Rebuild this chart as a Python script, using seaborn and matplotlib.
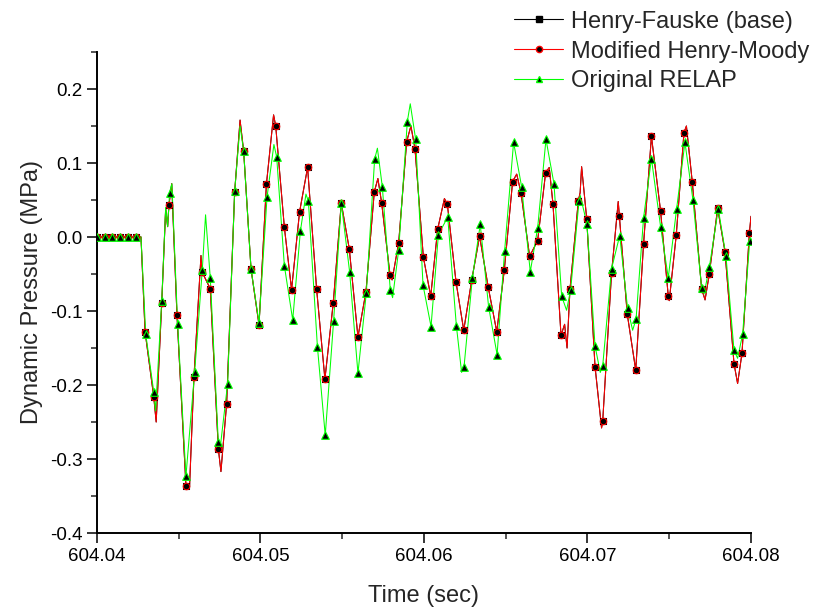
import numpy as np
import pandas as pd
import matplotlib
matplotlib.use("Agg")
import matplotlib.pyplot as plt
from matplotlib.lines import Line2D
from matplotlib.ticker import MultipleLocator
import seaborn as sns

T0 = 604.04  # time origin, sec; the lists below are in ms after T0

# Modified Henry-Moody - marker samples
moody_mark_ms = [0.00, 0.47, 0.94, 1.41, 1.90, 2.40, 2.94, 3.47, 3.96, 4.40,
                 4.89, 5.44, 5.93, 6.42, 6.93, 7.42, 7.93, 8.42, 8.97, 9.42,
                 9.91, 10.36, 10.93, 11.46, 11.90, 12.39, 12.88, 13.43, 13.94, 14.45,
                 14.94, 15.43, 15.96, 16.45, 16.96, 17.41, 17.92, 18.45, 18.94, 19.45,
                 19.96, 20.41, 20.84, 21.43, 21.96, 22.43, 22.92, 23.40, 23.93, 24.45,
                 24.91, 25.42, 25.93, 26.46, 26.95, 27.44, 27.89, 28.38, 28.93, 29.44,
                 29.95, 30.46, 30.93, 31.47, 31.95, 32.43, 32.95, 33.43, 33.91, 34.47,
                 34.94, 35.43, 35.90, 36.41, 36.98, 37.45, 37.96, 38.41, 38.96, 39.45,
                 39.90]
moody_mark_p = [0.000, 0.000, 0.000, 0.000, 0.000, 0.000, -0.128, -0.216, -0.089, 0.043,
                -0.105, -0.336, -0.189, -0.047, -0.070, -0.286, -0.225, 0.061, 0.116, -0.043,
                -0.119, 0.071, 0.150, 0.013, -0.071, 0.034, 0.094, -0.070, -0.192, -0.089,
                0.046, -0.016, -0.135, -0.074, 0.061, 0.046, -0.051, -0.008, 0.129, 0.119,
                -0.027, -0.080, 0.011, 0.044, -0.061, -0.126, -0.058, 0.001, -0.068, -0.128,
                -0.045, 0.075, 0.060, -0.026, -0.005, 0.087, 0.044, -0.133, -0.070, 0.049,
                0.025, -0.175, -0.249, -0.049, 0.028, -0.104, -0.180, -0.009, 0.136, 0.035,
                -0.080, 0.003, 0.141, 0.074, -0.070, -0.050, 0.039, -0.020, -0.171, -0.157,
                0.005]
# Modified Henry-Moody - extra line vertices (peaks / troughs between markers)
moody_peak_ms = [2.69, 3.62, 4.20, 4.32, 4.57, 5.66, 6.36, 7.58, 8.75, 10.80,
                 17.18, 18.05, 19.20, 21.25, 25.67, 27.66, 28.60, 28.75, 29.55, 29.64,
                 30.86, 31.88, 35.00, 36.05, 37.19, 39.18, 40.00]
moody_peak_p = [0.000, -0.250, 0.038, 0.014, 0.072, -0.338, -0.025, -0.317, 0.158, 0.165,
                0.079, -0.058, 0.150, 0.052, 0.085, 0.094, -0.118, -0.150, 0.060, 0.095,
                -0.258, 0.048, -0.086, 0.150, -0.085, -0.198, 0.028]

# Henry-Fauske (base) - lies exactly under the Moody curve in the picture
fauske_mark_ms = list(moody_mark_ms)
fauske_mark_p = list(moody_mark_p)
fauske_peak_ms = list(moody_peak_ms)
fauske_peak_p = list(moody_peak_p)

# Original RELAP - marker samples
relap_mark_ms = [0.00, 0.47, 0.94, 1.41, 1.90, 2.40, 2.98, 3.47, 3.96, 4.44,
                 4.93, 5.44, 5.97, 6.44, 6.93, 7.42, 7.99, 8.42, 8.97, 9.42,
                 9.91, 10.40, 10.99, 11.46, 11.97, 12.44, 12.93, 13.48, 13.96, 14.47,
                 14.94, 15.45, 15.96, 16.47, 16.98, 17.45, 17.94, 18.45, 18.98, 19.49,
                 19.94, 20.43, 20.88, 21.45, 21.98, 22.45, 22.96, 23.44, 23.95, 24.47,
                 24.93, 25.48, 25.97, 26.50, 26.95, 27.46, 27.95, 28.42, 28.97, 29.48,
                 29.97, 30.46, 30.93, 31.47, 31.97, 32.45, 32.97, 33.43, 33.91, 34.47,
                 34.94, 35.45, 35.96, 36.45, 36.98, 37.45, 38.00, 38.47, 38.96, 39.49,
                 39.92]
relap_mark_p = [0.000, 0.000, 0.000, 0.000, 0.000, 0.000, -0.131, -0.209, -0.086, 0.060,
                -0.117, -0.323, -0.183, -0.044, -0.056, -0.277, -0.198, 0.062, 0.116, -0.043,
                -0.116, 0.054, 0.108, -0.039, -0.112, 0.008, 0.048, -0.148, -0.268, -0.114,
                0.046, -0.047, -0.184, -0.076, 0.105, 0.068, -0.072, -0.018, 0.156, 0.132,
                -0.065, -0.121, 0.003, 0.027, -0.120, -0.175, -0.055, 0.017, -0.094, -0.159,
                -0.019, 0.128, 0.068, -0.047, 0.012, 0.132, 0.072, -0.080, -0.071, 0.048,
                0.017, -0.147, -0.174, -0.043, 0.002, -0.096, -0.111, 0.026, 0.106, 0.014,
                -0.055, 0.038, 0.128, 0.050, -0.069, -0.041, 0.038, -0.026, -0.153, -0.131,
                -0.006]
# Original RELAP - extra line vertices
relap_peak_ms = [2.69, 3.58, 4.20, 4.32, 4.58, 6.64, 7.55, 8.75, 10.82, 12.78,
                 17.15, 18.08, 19.16, 22.30, 28.72, 29.56, 30.78, 32.76, 37.13, 39.18]
relap_peak_p = [0.000, -0.235, 0.040, 0.014, 0.072, 0.030, -0.282, 0.150, 0.125, 0.058,
                0.120, -0.082, 0.180, -0.183, -0.099, 0.056, -0.183, -0.126, -0.077, -0.164]

series_names = ["Henry-Fauske (base)", "Modified Henry-Moody", "Original RELAP"]
x_ticks = [604.04, 604.05, 604.06, 604.07, 604.08]
x_tick_labels = ["604.04", "604.05", "604.06", "604.07", "604.08"]
y_ticks = [-0.4, -0.3, -0.2, -0.1, 0.0, 0.1, 0.2]
y_tick_labels = ["-0.4", "-0.3", "-0.2", "-0.1", "0.0", "0.1", "0.2"]


def curve(mark_ms, mark_p, peak_ms, peak_p):
    df = pd.DataFrame({"ms": mark_ms + peak_ms, "p": mark_p + peak_p})
    df = df.sort_values("ms").reset_index(drop=True)
    df["t"] = T0 + df["ms"] / 1000.0
    return df


def marks(mark_ms, mark_p):
    return pd.DataFrame({"t": T0 + np.array(mark_ms) / 1000.0, "p": mark_p})


sns.set_theme(style="ticks")
plt.rcParams["font.family"] = ["Liberation Sans", "DejaVu Sans"]
plt.rcParams["axes.unicode_minus"] = False

fig = plt.figure(figsize=(8.16, 6.12), dpi=100)
ax = fig.add_axes([97 / 816, 1 - 533 / 612, (751 - 97) / 816, (533 - 52) / 612])

styles = [
    (fauske_mark_ms, fauske_mark_p, fauske_peak_ms, fauske_peak_p, "black", "s", 18),
    (moody_mark_ms, moody_mark_p, moody_peak_ms, moody_peak_p, "#ff0000", "o", 22),
    (relap_mark_ms, relap_mark_p, relap_peak_ms, relap_peak_p, "#00ff00", "^", 30),
]

# lines first, markers on top
for i, (mms, mp, pms, pp, col, mk, sz) in enumerate(styles):
    sns.lineplot(data=curve(mms, mp, pms, pp), x="t", y="p", estimator=None, sort=False,
                 color=col, linewidth=0.75, ax=ax, zorder=2 + i)
for i, (mms, mp, pms, pp, col, mk, sz) in enumerate(styles):
    sns.scatterplot(data=marks(mms, mp), x="t", y="p", marker=mk, s=sz,
                    color="black", edgecolor=col, linewidth=0.8, ax=ax, zorder=6 + i)

ax.set_xlim(604.04, 604.08)
ax.set_ylim(-0.4, 0.25)
ax.set_xticks(x_ticks)
ax.set_xticklabels(x_tick_labels)
ax.set_yticks(y_ticks)
ax.set_yticklabels(y_tick_labels)
ax.xaxis.set_minor_locator(MultipleLocator(0.005))
ax.yaxis.set_minor_locator(MultipleLocator(0.05))
ax.tick_params(which="major", direction="out", length=7, width=1.1, labelsize=13.5,
               colors="black")
ax.tick_params(which="minor", direction="out", length=4, width=1.1)

sns.despine(ax=ax)
for side in ["left", "bottom"]:
    ax.spines[side].set_linewidth(1.4)
    ax.spines[side].set_color("black")

ax.set_xlabel("Time (sec)", fontsize=17, labelpad=15)
ax.set_ylabel("Dynamic Pressure (MPa)", fontsize=17, labelpad=5)

handles = []
for (mms, mp, pms, pp, col, mk, sz), name in zip(styles, series_names):
    handles.append(Line2D([0], [0], color=col, lw=0.8, marker=mk, markersize=4.5,
                          markerfacecolor="black", markeredgecolor=col, label=name))
fig.legend(handles=handles, loc="upper right", bbox_to_anchor=(1.0, 0.994),
           frameon=False, fontsize=17, handlelength=2.1, handletextpad=0.3,
           labelspacing=0.33, borderpad=0.15, borderaxespad=0.15)

fig.savefig("out.png", dpi=100)
